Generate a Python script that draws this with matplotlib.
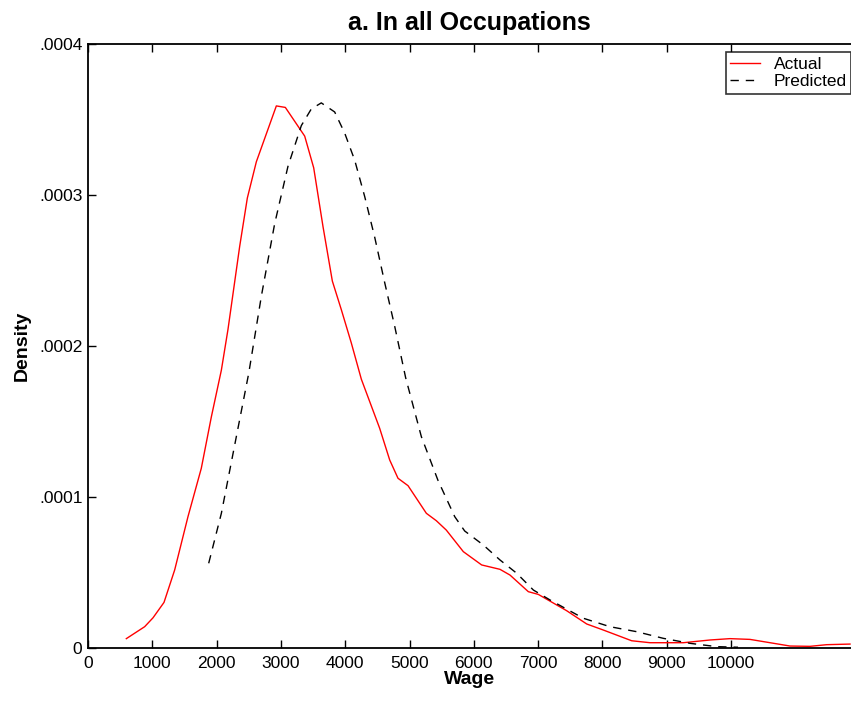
import matplotlib
matplotlib.use("Agg")
import matplotlib.pyplot as plt

plt.rcParams['font.family'] = ['Liberation Sans', 'DejaVu Sans']

# wage grid and density
actual_wage = [596, 881, 1011, 1182, 1348, 1555, 1762, 1918, 2074, 2177, 2359, 2478,
               2618, 2929, 3069, 3370, 3510, 3655, 3800, 3940, 4095, 4251, 4536, 4692,
               4821, 4977, 5262, 5417, 5572, 5837, 6122, 6407, 6563, 6848, 7003, 7444,
               7756, 8014, 8455, 8740, 9258, 9673, 9984, 10295, 10607, 10918, 11229,
               11488, 11851]
actual_dens = [0.0000062, 0.0000141, 0.0000200, 0.0000302, 0.0000517, 0.0000870,
               0.0001190, 0.0001530, 0.0001840, 0.0002110, 0.0002660, 0.0002980,
               0.0003220, 0.0003590, 0.0003580, 0.0003390, 0.0003180, 0.0002790,
               0.0002430, 0.0002240, 0.0002020, 0.0001780, 0.0001455, 0.0001245,
               0.0001124, 0.0001075, 0.0000892, 0.0000843, 0.0000781, 0.0000638,
               0.0000550, 0.0000521, 0.0000483, 0.0000373, 0.0000355, 0.0000247,
               0.0000159, 0.0000119, 0.0000048, 0.0000035, 0.0000035, 0.0000053,
               0.0000062, 0.0000057, 0.0000035, 0.0000013, 0.0000011, 0.0000022,
               0.0000026]

pred_wage = [1877, 2074, 2307, 2500, 2696, 2903, 3110, 3318, 3473, 3628, 3836, 3992,
             4148, 4303, 4459, 4614, 4770, 4940, 5184, 5443, 5703, 5858, 6148, 6407,
             6667, 6926, 7185, 7703, 8118, 8533, 8947, 9362, 9777, 10109]
pred_dens = [0.0000561, 0.0000892, 0.0001400, 0.0001820, 0.0002330, 0.0002810,
             0.0003190, 0.0003460, 0.0003570, 0.0003610, 0.0003550, 0.0003410,
             0.0003230, 0.0002990, 0.0002720, 0.0002420, 0.0002130, 0.0001790,
             0.0001400, 0.0001110, 0.0000870, 0.0000775, 0.0000682, 0.0000583,
             0.0000495, 0.0000384, 0.0000318, 0.0000197, 0.0000141, 0.0000108,
             0.0000064, 0.0000031, 0.0000009, 0.0000005]

xticks = [0, 1000, 2000, 3000, 4000, 5000, 6000, 7000, 8000, 9000, 10000]
yticks = [0, 0.0001, 0.0002, 0.0003, 0.0004]
ylabels = ['0', '.0001', '.0002', '.0003', '.0004']

fig = plt.figure(figsize=(8.51, 7.04), dpi=100)
ax = fig.add_axes([88 / 851, 56 / 704, 1 - 88 / 851, 604 / 704])

ax.plot(actual_wage, actual_dens, color='red', lw=1.0, label='Actual')
ax.plot(pred_wage, pred_dens, color='black', lw=1.0, dashes=(6, 5), label='Predicted')

ax.set_xlim(0, 11866)
ax.set_ylim(0, 0.0004)
ax.set_xticks(xticks)
ax.set_xticklabels([str(t) for t in xticks], fontsize=12.5)
ax.set_yticks(yticks)
ax.set_yticklabels(ylabels, fontsize=12.5)
ax.tick_params(direction='in', length=6, width=1, top=True, right=False)
ax.tick_params(axis='x', pad=6)
ax.tick_params(axis='y', pad=4)
ax.spines['right'].set_visible(False)
for s in ['left', 'bottom', 'top']:
    ax.spines[s].set_linewidth(1.3)

ax.set_xlabel('Wage', fontsize=14, fontweight='bold', labelpad=0)
ax.set_ylabel('Density', fontsize=14, fontweight='bold', labelpad=6)
ax.set_title('a. In all Occupations', fontsize=18, fontweight='bold', pad=10)

leg = ax.legend(loc='upper right', bbox_to_anchor=(1.0, 0.986), fontsize=12.5,
                frameon=True, fancybox=False, handlelength=1.7, borderpad=0.25,
                labelspacing=0.12, borderaxespad=0.0, handletextpad=0.8)
leg.get_frame().set_edgecolor('black')
leg.get_frame().set_linewidth(1.2)

fig.savefig('out.png', dpi=100)
